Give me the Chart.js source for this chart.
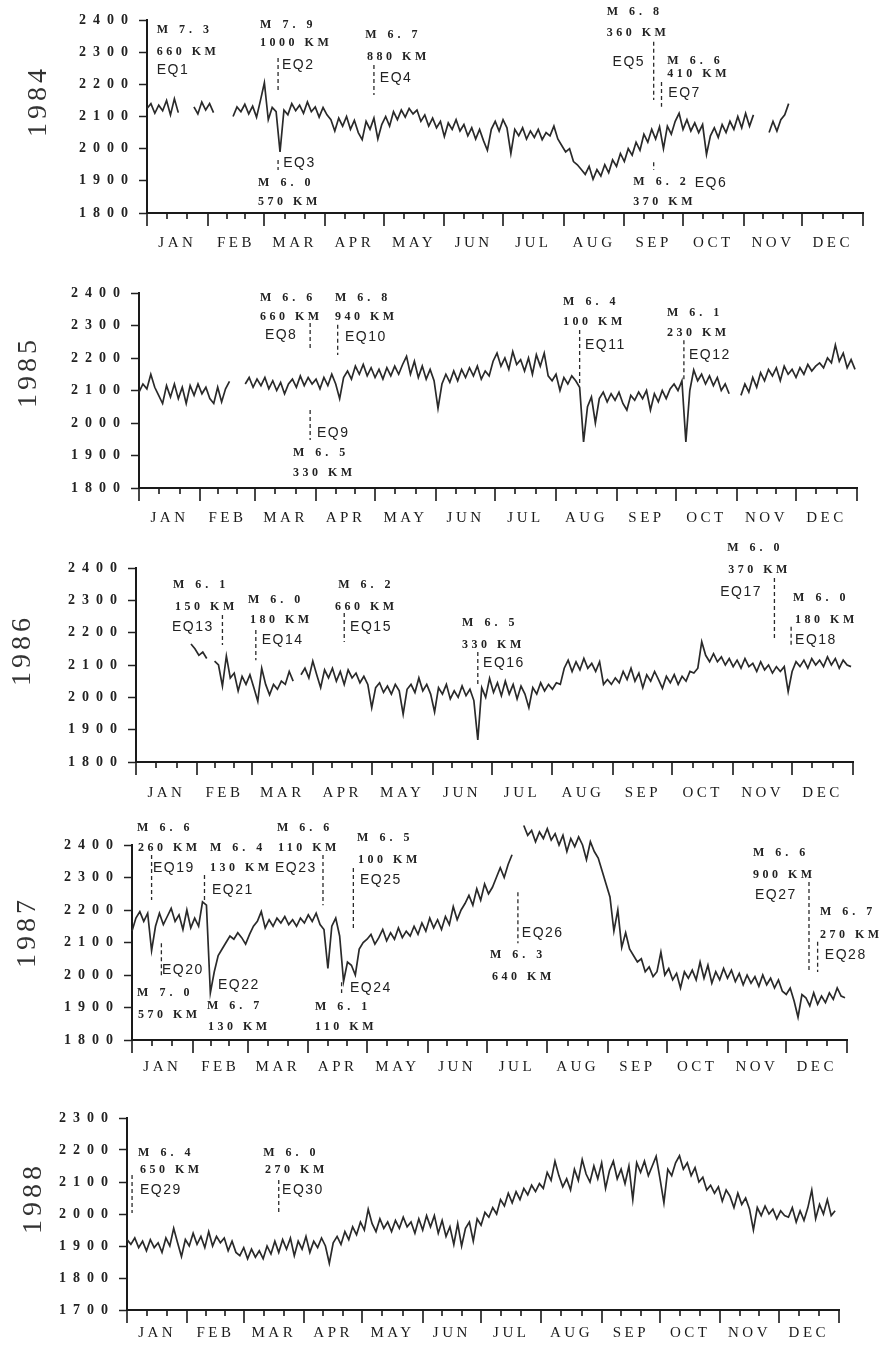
<!DOCTYPE html>
<html>
<head>
<meta charset="utf-8">
<script src="https://cdn.jsdelivr.net/npm/chart.js@4.4.1/dist/chart.umd.min.js"></script>
<style>
  body { margin: 0; background: #fff; }
  #page { position: relative; width: 885px; height: 1349px; overflow: hidden; background: #fff; }
  canvas { position: absolute; left: 0; }
  .year {
    position: absolute; width: 100px; height: 30px; line-height: 30px; text-align: center;
    font-family: "Liberation Serif", serif; font-size: 28px; letter-spacing: 4px; color: #333;
    transform: rotate(-90deg);
  }
</style>
</head>
<body>
<div id="page"></div>
<script>
// one reading every second day, starting Jan 1
const STEP = 2;
const monthNames = ["JAN", "FEB", "MAR", "APR", "MAY", "JUN", "JUL", "AUG", "SEP", "OCT", "NOV", "DEC"];
const monthDaysLeap = [31, 29, 31, 30, 31, 30, 31, 31, 30, 31, 30, 31];
const monthDaysCommon = [31, 28, 31, 30, 31, 30, 31, 31, 30, 31, 30, 31];

const s1984 = [
  2125, 2140, 2110, 2135, 2118, 2150, 2105, 2155, 2112, null,
  null, null, 2130, 2108, 2145, 2120, 2140, 2112, null, null,
  null, null, 2100, 2130, 2115, 2138, 2108, 2132, 2098, 2150,
  2205, 2090, 2128, 2115, 1990, 2120, 2105, 2140, 2118, 2135,
  2110, 2145, 2115, 2130, 2098, 2128, 2105, 2090, 2055, 2095,
  2070, 2100, 2060, 2088, 2050, 2028, 2085, 2060, 2095, 2030,
  2075, 2100, 2070, 2115, 2090, 2120, 2098, 2125, 2108, 2120,
  2085, 2105, 2070, 2095, 2065, 2085, 2038, 2080, 2060, 2090,
  2055, 2075, 2040, 2065, 2030, 2060, 2025, 1995, 2060, 2085,
  2055, 2090, 2065, 1985, 2060, 2040, 2065, 2030, 2055, 2035,
  2060, 2028, 2050, 2040, 2070, 2030, 2010, 1990, 2000, 1960,
  1950, 1935, 1920, 1945, 1905, 1935, 1915, 1950, 1925, 1965,
  1945, 1985, 1960, 2000, 1980, 2020, 1995, 2045, 2020, 2060,
  2030, 2068, 2000, 2070, 2045, 2085, 2110, 2060, 2090, 2055,
  2080, 2050, 2075, 1982, 2040, 2065, 2035, 2075, 2050, 2085,
  2060, 2100, 2065, 2110, 2070, 2105, null, null, null, 2050,
  2085, 2055, 2090, 2105, 2140, null, null, null, null, null,
  null, null, null, null, null, null, null, null, null, null,
  null, null, null, null
];
const s1985 = [
  2095, 2120, 2105, 2150, 2110, 2085, 2060, 2115, 2080, 2120,
  2075, 2110, 2060, 2115, 2085, 2120, 2090, 2110, 2075, 2060,
  2110, 2065, 2105, 2128, null, null, null, 2120, 2140, 2110,
  2135, 2115, 2140, 2105, 2130, 2100, 2125, 2090, 2120, 2135,
  2110, 2145, 2115, 2140, 2120, 2135, 2105, 2140, 2115, 2150,
  2120, 2075, 2140, 2160, 2135, 2175, 2150, 2180, 2145, 2170,
  2140, 2165, 2135, 2170, 2145, 2175, 2150, 2180, 2205, 2150,
  2190, 2140, 2175, 2135, 2165, 2130, 2045, 2120, 2150, 2125,
  2160, 2130, 2165, 2140, 2170, 2145, 2175, 2135, 2160, 2145,
  2190, 2215, 2175, 2200, 2165, 2220, 2180, 2195, 2160, 2200,
  2150, 2210, 2175, 2215, 2145, 2130, 2150, 2100, 2140, 2120,
  2145, 2130, 2110, 1942, 2050, 2080, 2000, 2075, 2095, 2065,
  2090, 2070, 2095, 2060, 2040, 2085, 2070, 2095, 2075, 2100,
  2040, 2090, 2065, 2100, 2075, 2105, 2120, 2100, 2130, 1942,
  2100, 2163, 2130, 2150, 2120, 2145, 2115, 2140, 2100, 2120,
  2090, null, null, 2085, 2120, 2095, 2140, 2110, 2155, 2130,
  2165, 2145, 2170, 2130, 2175, 2150, 2165, 2140, 2170, 2150,
  2180, 2160, 2175, 2185, 2170, 2200, 2185, 2240, 2190, 2215,
  2170, 2195, 2165
];
const s1986 = [
  null, null, null, null, null, null, null, null, null, null,
  null, null, null, null, 2165, 2150, 2130, 2140, 2120, null,
  2112, 2100, 2035, 2128, 2060, 2075, 2020, 2065, 2040, 2070,
  2030, 1988, 2090, 2040, 2008, 2040, 2025, 2050, 2040, 2080,
  2050, null, 2070, 2090, 2060, 2112, 2070, 2030, 2085, 2060,
  2090, 2050, 2080, 2040, 2085, 2060, 2075, 2045, 2065, 2040,
  1968, 2030, 2045, 2015, 2035, 2010, 2040, 2020, 1948, 2025,
  2040, 2015, 2060, 2020, 2040, 2010, 1955, 2030, 2010, 2040,
  1995, 2020, 2000, 2035, 2005, 2025, 1990, 1868, 2030, 2000,
  2059, 2015, 2045, 2005, 2050, 2010, 2040, 1995, 2035, 2010,
  1968, 2030, 2010, 2045, 2020, 2040, 2025, 2045, 2040, 2090,
  2115, 2080, 2110, 2085, 2120, 2090, 2105, 2080, 2110, 2040,
  2055, 2040, 2060, 2045, 2080, 2055, 2090, 2050, 2075, 2030,
  2070, 2050, 2080, 2055, 2028, 2065, 2045, 2070, 2040, 2065,
  2050, 2080, 2075, 2090, 2172, 2130, 2110, 2135, 2110, 2125,
  2100, 2120, 2095, 2115, 2090, 2120, 2095, 2105, 2080, 2110,
  2085, 2100, 2075, 2095, 2080, 2095, 2018, 2080, 2110, 2095,
  2115, 2090, 2120, 2100, 2115, 2095, 2125, 2100, 2120, 2090,
  2115, 2100, 2095
];
const s1987 = [
  2135, 2175, 2195, 2165, 2190, 2075, 2150, 2190, 2155, 2180,
  2205, 2165, 2185, 2140, 2200, 2145, 2175, 2150, 2225, 2215,
  1945, 2010, 2060, 2080, 2100, 2120, 2110, 2130, 2115, 2095,
  2125, 2150, 2165, 2195, 2145, 2170, 2150, 2175, 2160, 2180,
  2155, 2170, 2150, 2175, 2160, 2185, 2165, 2190, 2155, 2140,
  2020, 2150, 2175, 2120, 1980, 2040, 2030, 2000, 2080, 2100,
  2110, 2125, 2095, 2115, 2140, 2105, 2130, 2110, 2145, 2115,
  2135, 2120, 2150, 2125, 2160, 2135, 2175, 2145, 2170, 2140,
  2180, 2155, 2210, 2170, 2200, 2220, 2245, 2215, 2265, 2230,
  2280, 2250, 2270, 2300, 2330, 2300, 2340, 2370, null, null,
  2460, 2430, 2445, 2410, 2440, 2420, 2450, 2415, 2435, 2400,
  2430, 2380, 2420, 2395, 2425, 2400, 2355, 2410, 2380, 2360,
  2320, 2280, 2240, 2135, 2200, 2085, 2130, 2080, 2060, 2040,
  2050, 2010, 2025, 1995, 2010, 2070, 2000, 2020, 1985, 2005,
  1960, 2010, 1990, 2015, 1985, 2040, 1990, 2030, 1975, 2010,
  1985, 2020, 1990, 2015, 1980, 2005, 1970, 2000, 1975, 1995,
  1965, 2000, 1970, 1990, 1960, 1985, 1950, 1940, 1960, 1920,
  1870, 1940, 1930, 1905, 1945, 1910, 1935, 1915, 1945, 1925,
  1960, 1935, 1930
];
const s1988 = [
  1920, 1905, 1925, 1895, 1915, 1885, 1920, 1895, 1910, 1880,
  1925, 1900, 1955, 1910, 1867, 1920, 1900, 1940, 1905, 1930,
  1895, 1945, 1900, 1930, 1910, 1925, 1885, 1915, 1880, 1870,
  1895, 1860, 1890, 1865, 1885, 1860, 1900, 1875, 1915, 1880,
  1920, 1890, 1925, 1870, 1915, 1890, 1930, 1880, 1915, 1895,
  1925, 1900, 1846, 1910, 1930, 1905, 1945, 1920, 1960, 1935,
  1975, 1950, 2015, 1970, 1945, 1985, 1955, 1975, 1945, 1980,
  1955, 1990, 1960, 1975, 1940, 1985, 1950, 1995, 1960, 1995,
  1940, 1980, 1930, 1960, 1905, 1970, 1900, 1955, 1975, 1915,
  1985, 1965, 2005, 1990, 2020, 2000, 2045, 2025, 2065, 2035,
  2070, 2045, 2080, 2060, 2090, 2070, 2095, 2080, 2130, 2105,
  2165, 2120, 2085, 2110, 2075, 2140, 2105, 2170, 2125, 2100,
  2150, 2110, 2160, 2080, 2135, 2165, 2110, 2140, 2095, 2150,
  2045, 2160, 2130, 2165, 2120, 2150, 2180, 2110, 2035, 2140,
  2120, 2160, 2182, 2140, 2160, 2120, 2145, 2100, 2115, 2075,
  2090, 2065, 2085, 2040, 2075, 2055, 2020, 2065, 2030, 2050,
  2015, 1950, 2020, 1995, 2025, 2000, 2015, 1985, 2010, 1995,
  1990, 2020, 1975, 2010, 1980, 2020, 2075, 1985, 2030, 2000,
  2045, 1995, 2010, null
];

// earthquakes EQ1..EQ30: year, day of year, magnitude, distance (km)
const eqYear = [1984, 1984, 1984, 1984, 1984, 1984, 1984,
  1985, 1985, 1985, 1985, 1985,
  1986, 1986, 1986, 1986, 1986, 1986,
  1987, 1987, 1987, 1987, 1987, 1987, 1987, 1987, 1987, 1987,
  1988, 1988];
const eqDay = [1, 67, 67, 116, 259, 259, 263,
  87, 87, 101, 224, 277,
  44, 61, 106, 174, 325, 333.5,
  10, 15, 37, 39, 97.5, 107, 113, 197, 345.6, 350,
  2.6, 78];
const eqMag = ["7.3", "7.9", "6.0", "6.7", "6.8", "6.2", "6.6",
  "6.6", "6.5", "6.8", "6.4", "6.1",
  "6.1", "6.0", "6.2", "6.5", "6.0", "6.0",
  "6.6", "7.0", "6.4", "6.7", "6.6", "6.1", "6.5", "6.3", "6.6", "6.7",
  "6.4", "6.0"];
const eqKm = [660, 1000, 570, 880, 360, 370, 410,
  660, 330, 940, 100, 230,
  150, 180, 660, 330, 370, 180,
  260, 570, 130, 130, 110, 110, 100, 640, 900, 270,
  650, 270];

// where each label sits, in axis units [day, value]; line = dashed marker range
const eqLayout = [
  { line: null,         m: [5, 2369],     km: [5, 2300],     eq: [5, 2245] },
  { line: [2282, 2173], m: [57.8, 2384],  km: [57.8, 2328],  eq: [69, 2260] },
  { line: [1965, 1934], m: [56.8, 1893],  km: [56.8, 1834],  eq: [69.6, 1955] },
  { line: [2260, 2167], m: [111.5, 2353], km: [112.5, 2285], eq: [119, 2220] },
  { line: [2332, 2151], m: [235, 2425],   km: [235, 2360],   eq: [238, 2269] },
  { line: [1958, 1934], m: [248.6, 1896], km: [248.6, 1834], eq: [280, 1893] },
  { line: [2207, 2130], m: [266, 2272],   km: [266, 2232],   eq: [266.5, 2173] },
  { line: [2308, 2225], m: [61.5, 2385],  km: [61.5, 2326],  eq: [64, 2271] },
  { line: [2040, 1948], m: [78.3, 1908],  km: [78.3, 1846],  eq: [90.5, 1969] },
  { line: [2302, 2209], m: [99.6, 2385],  km: [99.6, 2326],  eq: [104.7, 2265] },
  { line: [2286, 2123], m: [215.6, 2372], km: [215.6, 2311], eq: [226.7, 2240] },
  { line: [2255, 2132], m: [268.4, 2338], km: [268.4, 2277], eq: [279.6, 2209] },
  { line: [2255, 2162], m: [18.8, 2347],  km: [19.9, 2279],  eq: [18.3, 2218] },
  { line: [2208, 2115], m: [57, 2301],    km: [58, 2239],    eq: [64, 2177] },
  { line: [2261, 2171], m: [102.9, 2347], km: [101.3, 2279], eq: [109, 2218] },
  { line: [2140, 2038], m: [166, 2230],   km: [166, 2162],   eq: [176.7, 2106] },
  { line: [2369, 2177], m: [301, 2462],   km: [301.5, 2394], eq: [297.4, 2326] },
  { line: [2218, 2156], m: [334.5, 2307], km: [335.5, 2239], eq: [335.5, 2177] },
  { line: [2369, 2231], m: [2.6, 2452],   km: [3, 2391],     eq: [10.7, 2329] },
  { line: [2098, 1991], m: [2.6, 1945],   km: [3, 1877],     eq: [15.3, 2015] },
  { line: [2308, 2222], m: [39.8, 2391],  km: [39.8, 2329],  eq: [40.8, 2262] },
  { line: null,         m: [38.3, 1905],  km: [38.8, 1840],  eq: [43.9, 1969] },
  { line: [2369, 2215], m: [74, 2452],    km: [74.5, 2391],  eq: [73, 2329] },
  { line: [1978, 1945], m: [93.4, 1902],  km: [93.4, 1840],  eq: [111.3, 1960] },
  { line: [2329, 2138], m: [114.9, 2422], km: [115.4, 2354], eq: [116.4, 2292] },
  { line: [2255, 2098], m: [182.7, 2062], km: [183.8, 1994], eq: [199, 2129] },
  { line: [2286, 2009], m: [317, 2375],   km: [317, 2308],   eq: [318, 2246] },
  { line: [2102, 2009], m: [351.2, 2194], km: [351.2, 2123], eq: [353.7, 2062] },
  { line: [2122, 2003], m: [5.7, 2191],   km: [6.7, 2137],   eq: [6.7, 2075] },
  { line: [2106, 1997], m: [70, 2191],    km: [71, 2137],    eq: [79.7, 2075] }
];

const panels = [
  { year: 1984, series: s1984, months: monthDaysLeap,   yMin: 1800, yMax: 2400, top: 0,    height: 262, left: 147, right: 863, padTop: 20, padBottom: 14, labelPad: 21, yearX: 37, yearY: 101 },
  { year: 1985, series: s1985, months: monthDaysCommon, yMin: 1800, yMax: 2400, top: 262,  height: 278, left: 139, right: 857, padTop: 31, padBottom: 17, labelPad: 21, yearX: 27, yearY: 372 },
  { year: 1986, series: s1986, months: monthDaysCommon, yMin: 1800, yMax: 2400, top: 540,  height: 275, left: 136, right: 853, padTop: 28, padBottom: 18, labelPad: 22, yearX: 21, yearY: 650 },
  { year: 1987, series: s1987, months: monthDaysCommon, yMin: 1800, yMax: 2400, top: 815,  height: 280, left: 132, right: 847, padTop: 30, padBottom: 20, labelPad: 18, yearX: 26, yearY: 932 },
  { year: 1988, series: s1988, months: monthDaysLeap,   yMin: 1700, yMax: 2300, top: 1095, height: 254, left: 127, right: 839, padTop: 23, padBottom: 4,  labelPad: 14, yearX: 32, yearY: 1198 }
];

// y labels are drawn before the datasets, month names after them (ticks.z = 1)
const spacing = {
  id: "spacing",
  beforeDraw(chart) { chart.ctx.letterSpacing = "7px"; },
  afterDatasetsDraw(chart) { chart.ctx.letterSpacing = "3.5px"; },
  afterDraw(chart) { chart.ctx.letterSpacing = "0px"; }
};

// long ticks at month starts, short ones at the thirds of each month
const monthTicks = {
  id: "monthTicks",
  afterDraw(chart, args, opts) {
    const { ctx, chartArea, scales: { x } } = chart;
    const mark = (d, len) => {
      const px = Math.round(x.getPixelForValue(d));
      ctx.moveTo(px, chartArea.bottom);
      ctx.lineTo(px, chartArea.bottom + len);
    };
    ctx.save();
    ctx.strokeStyle = "#1a1a1a";
    ctx.lineWidth = 1.6;
    ctx.beginPath();
    let start = 0;
    opts.months.forEach(n => {
      mark(start, 13);
      mark(start + n / 3, 6);
      mark(start + 2 * n / 3, 6);
      start += n;
    });
    mark(start, 13);
    ctx.stroke();
    ctx.restore();
  }
};

const eqText = {
  id: "eqText",
  afterDraw(chart, args, opts) {
    const { ctx, scales: { x, y } } = chart;
    const put = (txt, pos) => ctx.fillText(txt, x.getPixelForValue(pos[0]), y.getPixelForValue(pos[1]));
    ctx.save();
    ctx.fillStyle = "#222";
    ctx.textAlign = "left";
    ctx.textBaseline = "middle";
    opts.items.forEach(i => {
      const L = eqLayout[i];
      ctx.font = 'bold 12px "Liberation Serif"';
      ctx.letterSpacing = "4px";
      put("M " + eqMag[i].replace(".", ". "), L.m);
      ctx.letterSpacing = "3.5px";
      put(eqKm[i] + " KM", L.km);
      ctx.font = '14px "Liberation Sans"';
      ctx.letterSpacing = "1.5px";
      put("EQ" + (i + 1), L.eq);
    });
    ctx.restore();
  }
};

const page = document.getElementById("page");

panels.forEach(p => {
  const cv = document.createElement("canvas");
  cv.width = 885;
  cv.height = p.height;
  cv.style.top = p.top + "px";
  page.appendChild(cv);

  const yl = document.createElement("div");
  yl.className = "year";
  yl.textContent = p.year;
  yl.style.left = (p.yearX - 50) + "px";
  yl.style.top = (p.yearY - 15) + "px";
  page.appendChild(yl);

  const days = p.months.reduce((a, b) => a + b, 0);
  const mids = [];
  let acc = 0;
  p.months.forEach(n => { mids.push(acc + n / 2); acc += n; });

  const items = eqYear.map((yr, i) => (yr === p.year ? i : -1)).filter(i => i >= 0);

  const datasets = [{
    data: p.series.map((v, i) => ({ x: i * STEP, y: v })),
    borderColor: "#2a2a2a",
    borderWidth: 1.7,
    pointRadius: 0,
    spanGaps: false,
    tension: 0,
    clip: false
  }];
  items.forEach(i => {
    const L = eqLayout[i];
    if (!L.line) return;
    datasets.push({
      data: [{ x: eqDay[i], y: L.line[0] }, { x: eqDay[i], y: L.line[1] }],
      borderColor: "#2a2a2a",
      borderWidth: 1.3,
      borderDash: [4, 3],
      pointRadius: 0,
      clip: false
    });
  });

  new Chart(cv, {
    type: "line",
    data: { datasets },
    options: {
      responsive: false,
      animation: false,
      devicePixelRatio: 1,
      layout: {
        autoPadding: false,
        padding: { left: 0, right: 885 - p.right, top: p.padTop, bottom: p.padBottom }
      },
      plugins: {
        legend: { display: false },
        tooltip: { enabled: false },
        monthTicks: { months: p.months },
        eqText: { items }
      },
      scales: {
        x: {
          type: "linear",
          min: 0,
          max: days,
          afterBuildTicks: s => { s.ticks = mids.map(v => ({ value: v })); },
          afterFit: s => { s.height = 35; },
          grid: { display: false, drawTicks: false },
          border: { display: true, color: "#1a1a1a", width: 2 },
          ticks: {
            autoSkip: false,
            maxRotation: 0,
            padding: p.labelPad,
            color: "#1a1a1a",
            font: { family: "Liberation Serif", size: 15 },
            z: 1,
            callback: (v, i) => monthNames[i]
          }
        },
        y: {
          min: p.yMin,
          max: p.yMax,
          afterFit: s => { s.width = p.left; },
          grid: { display: true, drawOnChartArea: false, drawTicks: true, tickLength: 8, tickColor: "#222", tickWidth: 1.5 },
          border: { display: true, color: "#1a1a1a", width: 2 },
          ticks: {
            stepSize: 100,
            padding: 4,
            color: "#222",
            font: { family: "Liberation Serif", size: 14, weight: "bold" },
            callback: v => String(v)
          }
        }
      }
    },
    plugins: [spacing, monthTicks, eqText]
  });
});
</script>
</body>
</html>
